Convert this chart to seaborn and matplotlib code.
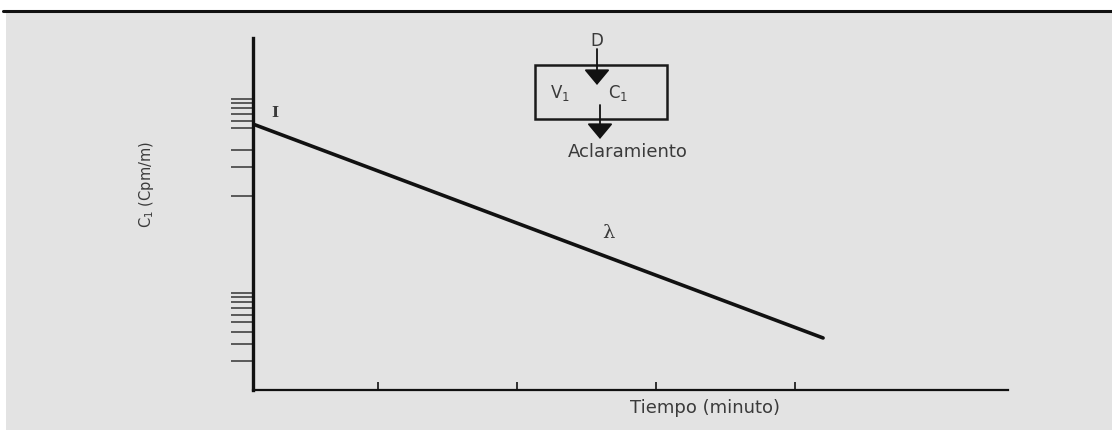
import matplotlib
matplotlib.use("Agg")
import matplotlib.pyplot as plt
import seaborn as sns
import pandas as pd
from matplotlib.patches import Rectangle, FancyArrowPatch
from matplotlib.lines import Line2D
from matplotlib.ticker import FixedLocator, NullLocator, NullFormatter

# Data
time_min = [1, 42]
conc = [552, 3.44]
x_ticks = [10, 20, 30, 40]
# log tick marks on the y axis (the 400 mark is missing in the original)
y_ticks = [2, 3, 4, 5, 6, 7, 8, 9, 10, 100, 200, 300, 500, 600, 700, 800, 900, 1000]

W, H = 1112, 431

sns.set_theme(style="white")
plt.rcParams["font.family"] = ["DejaVu Sans"]
plt.rcParams["mathtext.fontset"] = "dejavusans"

fig = plt.figure(figsize=(W / 100, H / 100), dpi=100)
fig.patch.set_facecolor("white")


def fx(px):
    return px / W


def fy(py):
    return 1 - py / H


# gray panel + black rule on top
fig.add_artist(Rectangle((fx(6), 0), 1 - fx(6), fy(13.5), transform=fig.transFigure,
                         facecolor="#e3e3e3", edgecolor="none", zorder=0))
fig.add_artist(Line2D([fx(3), 1], [fy(12), fy(12)], transform=fig.transFigure,
                      color="#111111", lw=2.2))

ax = fig.add_axes([fx(253), fy(391), fx(1008) - fx(253), fy(39) - fy(391)])
ax.patch.set_alpha(0)

df = pd.DataFrame({"Tiempo": time_min, "C1": conc})
sns.lineplot(data=df, x="Tiempo", y="C1", ax=ax, color="#111111", lw=2.6)

ax.set_yscale("log")
ax.set_xlim(1, 55.3)
ax.set_ylim(1, 4260)
ax.yaxis.set_major_locator(FixedLocator(y_ticks))
ax.yaxis.set_minor_locator(NullLocator())
ax.yaxis.set_major_formatter(NullFormatter())
ax.set_xticks(x_ticks)
ax.set_xticklabels([])
ax.tick_params(axis="y", which="both", left=True, direction="out", length=16,
               width=1.1, color="#333333")
ax.tick_params(axis="x", bottom=True, direction="in", length=6, width=1.3,
               color="#222222")
ax.set_xlabel("")
ax.set_ylabel("")

for s in ["top", "right"]:
    ax.spines[s].set_visible(False)
ax.spines["left"].set_linewidth(2.4)
ax.spines["bottom"].set_linewidth(1.6)
ax.spines["left"].set_color("#111111")
ax.spines["bottom"].set_color("#111111")

txt = "#3a3a3a"
fig.text(fx(147), fy(185), "C$_1$ (Cpm/m)", rotation=90, ha="center", va="center",
         fontsize=10.5, color=txt)
fig.text(fx(705), fy(408), "Tiempo (minuto)", ha="center", va="center",
         fontsize=13, color=txt)
fig.text(fx(275), fy(113), "I", ha="center", va="center", fontsize=11,
         family="DejaVu Serif", fontweight="bold", color=txt)
fig.text(fx(608), fy(233), "λ", ha="center", va="center", fontsize=14,
         family="DejaVu Serif", color=txt)

# compartment diagram
fig.add_artist(Rectangle((fx(535), fy(120)), (667 - 535) / W, (120 - 66) / H,
                         transform=fig.transFigure, facecolor="none",
                         edgecolor="#1a1a1a", lw=1.8))
fig.text(fx(597), fy(41), "D", ha="center", va="center", fontsize=12, color=txt)
fig.text(fx(560), fy(93), "V$_1$", ha="center", va="center", fontsize=12, color=txt)
fig.text(fx(618), fy(93), "C$_1$", ha="center", va="center", fontsize=12, color=txt)
fig.text(fx(628), fy(152), "Aclaramiento", ha="center", va="center", fontsize=13,
         color=txt)

arrow_style = "-|>,head_length=0.6,head_width=0.5"
for x0, y0, y1 in [(597, 50, 86), (600, 106, 140)]:
    fig.add_artist(FancyArrowPatch((fx(x0), fy(y0)), (fx(x0), fy(y1)),
                                   transform=fig.transFigure, arrowstyle=arrow_style,
                                   mutation_scale=16, lw=1.3, color="#111111",
                                   shrinkA=0, shrinkB=0))

fig.savefig("out.png", dpi=100)
